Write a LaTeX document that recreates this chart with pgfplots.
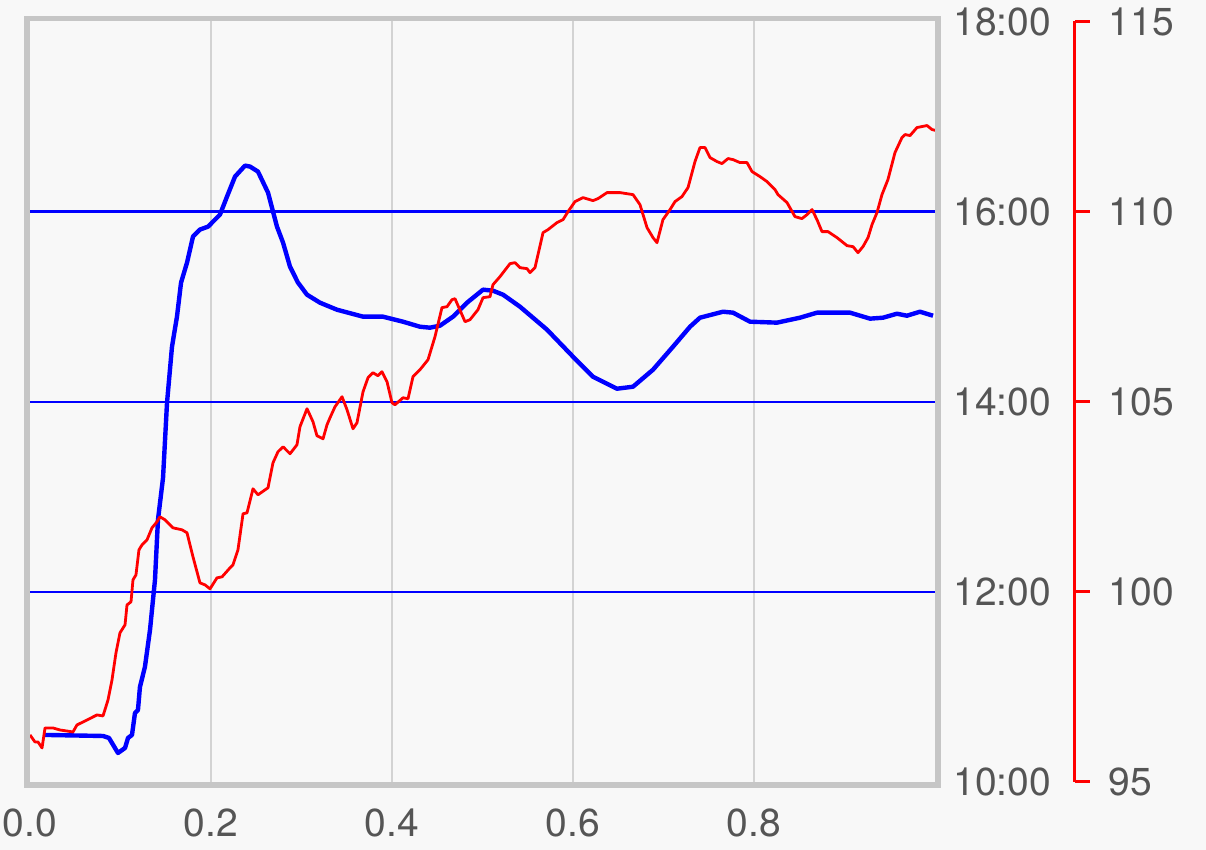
\documentclass[border=0pt]{standalone}
\usepackage{fontspec}
\setmainfont{TeX Gyre Heros}
\usepackage{pgfplots}
\pgfplotsset{compat=1.18}
\definecolor{bg}{HTML}{F8F8F8}
\definecolor{framegray}{HTML}{C6C6C6}
\definecolor{vgrid}{HTML}{D3D3D3}
\definecolor{lbl}{HTML}{555555}
\newcommand{\lblfont}{\fontsize{19.5}{22}\selectfont}

\begin{document}
\begin{tikzpicture}
\path[use as bounding box, fill=bg] (-15pt,-34pt) rectangle (588pt,391pt);

% time axis (left series, labels on the right)
\begin{axis}[
  name=main,
  scale only axis, width=452.5pt, height=380.25pt,
  xmin=0, xmax=1, ymin=10, ymax=18,
  axis line style={draw=none},
  /pgf/number format/assume math mode=true,
  xtick={0.2,0.4,0.6,0.8},
  xticklabels={0.2,0.4,0.6,0.8},
  extra x ticks={0}, extra x tick labels={0.0},
  extra x tick style={grid=none},
  ytick={12,14,16},
  yticklabels={12:00,14:00,16:00},
  extra y ticks={10,18}, extra y tick labels={10:00,18:00},
  extra y tick style={grid=none},
  yticklabel pos=right,
  major tick length=0pt,
  xmajorgrids, ymajorgrids,
  x grid style={vgrid, line width=1.4pt},
  y grid style={blue, line width=1.2pt},
  ticklabel style={font=\lblfont, text=lbl},
  xticklabel style={anchor=north, inner sep=0pt, yshift=-13pt},
  yticklabel style={anchor=west, inner sep=0pt, xshift=9pt},
]
\addplot[blue, line width=2.2pt, line join=round] coordinates {
(0.0166,10.495) (0.0807,10.484) (0.0873,10.463) (0.0972,10.305) (0.105,10.358)
(0.1083,10.463) (0.1127,10.495) (0.116,10.726) (0.1193,10.758) (0.1215,11.0)
(0.127,11.211) (0.1326,11.6) (0.1381,12.126) (0.1414,12.758) (0.147,13.2)
(0.1514,13.989) (0.1569,14.579) (0.1624,14.895) (0.1669,15.253) (0.1735,15.463)
(0.1801,15.737) (0.1878,15.811) (0.1967,15.842) (0.2099,15.968) (0.2177,16.158)
(0.2265,16.368) (0.2376,16.484) (0.2431,16.474) (0.2519,16.421) (0.263,16.2)
(0.2729,15.842) (0.2796,15.674) (0.2873,15.421) (0.2961,15.253) (0.3061,15.126)
(0.3204,15.042) (0.3392,14.968) (0.368,14.895) (0.39,14.895) (0.4122,14.842)
(0.4309,14.789) (0.442,14.779) (0.453,14.8) (0.4674,14.895) (0.4829,15.042)
(0.5006,15.179) (0.5116,15.168) (0.5227,15.126) (0.5414,15.0) (0.5713,14.758)
(0.6,14.474) (0.6221,14.263) (0.6486,14.137) (0.6663,14.158) (0.6884,14.337)
(0.7105,14.579) (0.7293,14.789) (0.7403,14.884) (0.7657,14.947) (0.7768,14.937)
(0.7956,14.842) (0.8254,14.832) (0.8508,14.884) (0.8696,14.937) (0.9061,14.937)
(0.9282,14.874) (0.9425,14.884) (0.958,14.926) (0.969,14.905) (0.9834,14.947)
(0.9978,14.905)
};
\end{axis}

% red series
\begin{axis}[
  scale only axis, width=452.5pt, height=380.25pt,
  xmin=0, xmax=1, ymin=95, ymax=115,
  hide axis,
]
\addplot[red, line width=1.4pt, line join=round] coordinates {
(0.0,96.237) (0.0055,96.053) (0.0088,96.053) (0.0133,95.895) (0.0166,96.421)
(0.0254,96.421) (0.0331,96.368) (0.0475,96.316) (0.0519,96.5) (0.063,96.632)
(0.074,96.763) (0.0807,96.737) (0.0862,97.158) (0.0906,97.684) (0.095,98.395)
(0.0994,98.921) (0.105,99.132) (0.1072,99.658) (0.1116,99.737) (0.1138,100.316)
(0.1171,100.447) (0.1204,101.105) (0.1238,101.237) (0.1293,101.368) (0.1348,101.684)
(0.1403,101.842) (0.1436,101.974) (0.1492,101.895) (0.158,101.684) (0.168,101.632)
(0.1735,101.553) (0.1801,100.921) (0.1878,100.237) (0.1934,100.184) (0.1989,100.079)
(0.2066,100.368) (0.2122,100.395) (0.221,100.632) (0.2243,100.711) (0.2298,101.105)
(0.2354,102.053) (0.2398,102.079) (0.2464,102.711) (0.2519,102.553) (0.263,102.737)
(0.2685,103.395) (0.274,103.684) (0.2796,103.816) (0.2873,103.632) (0.295,103.868)
(0.2983,104.342) (0.3061,104.816) (0.3127,104.474) (0.3171,104.105) (0.3238,104.026)
(0.3282,104.395) (0.3315,104.579) (0.337,104.868) (0.3448,105.132) (0.3503,104.789)
(0.3569,104.289) (0.3613,104.447) (0.368,105.263) (0.3735,105.632) (0.379,105.763)
(0.3845,105.684) (0.3889,105.789) (0.3945,105.526) (0.4,104.974) (0.4033,104.921)
(0.4122,105.105) (0.4177,105.079) (0.4232,105.658) (0.4309,105.842) (0.4398,106.105)
(0.4475,106.711) (0.4552,107.474) (0.4608,107.5) (0.4663,107.684) (0.4696,107.711)
(0.4807,107.105) (0.4862,107.158) (0.495,107.421) (0.5006,107.737) (0.5083,107.763)
(0.5116,108.079) (0.5193,108.289) (0.5304,108.632) (0.5359,108.658) (0.5414,108.526)
(0.5492,108.5) (0.5525,108.395) (0.558,108.526) (0.5669,109.447) (0.5724,109.526)
(0.5823,109.711) (0.589,109.789) (0.5945,110.0) (0.6022,110.263) (0.611,110.368)
(0.6221,110.289) (0.6276,110.342) (0.6376,110.5) (0.6519,110.5) (0.6663,110.447)
(0.674,110.184) (0.6818,109.579) (0.6884,109.316) (0.6928,109.184) (0.6994,109.789)
(0.7072,110.053) (0.7127,110.263) (0.7204,110.395) (0.7271,110.632) (0.7348,111.316)
(0.7403,111.684) (0.7459,111.684) (0.7514,111.421) (0.7591,111.316) (0.7646,111.263)
(0.7713,111.395) (0.7768,111.368) (0.7845,111.289) (0.7923,111.289) (0.7978,111.053)
(0.8066,110.921) (0.8144,110.789) (0.8232,110.579) (0.8265,110.447) (0.8365,110.237)
(0.8453,109.868) (0.853,109.816) (0.8586,109.921) (0.8641,110.053) (0.8696,109.789)
(0.8751,109.474) (0.8818,109.474) (0.8917,109.316) (0.9028,109.105) (0.9094,109.079)
(0.9149,108.921) (0.9204,109.079) (0.926,109.316) (0.9304,109.658) (0.9359,109.974)
(0.9414,110.447) (0.948,110.842) (0.9558,111.553) (0.9635,111.947) (0.9669,112.026)
(0.9724,112.0) (0.9801,112.211) (0.9912,112.263) (0.9967,112.158) (1.0011,112.132)
};
\end{axis}

% red axis
\begin{axis}[
  scale only axis, width=522.25pt, height=380.25pt,
  xmin=0, xmax=1, ymin=95, ymax=115,
  hide x axis,
  axis y line=right,
  y axis line style={red, line width=1.5pt, -},
  ytick={95,100,105,110,115},
  ytick style={red, line width=1.5pt},
  tick align=outside,
  major tick length=7.5pt,
  /pgf/number format/assume math mode=true,
  yticklabel style={font=\lblfont, text=lbl, anchor=west, inner sep=0pt, xshift=9.5pt},
]
\end{axis}

\draw[framegray, line width=2.8pt]
  ([shift={(-1.4pt,-1.4pt)}]main.south west) rectangle ([shift={(1.4pt,1.4pt)}]main.north east);
\end{tikzpicture}
\end{document}
